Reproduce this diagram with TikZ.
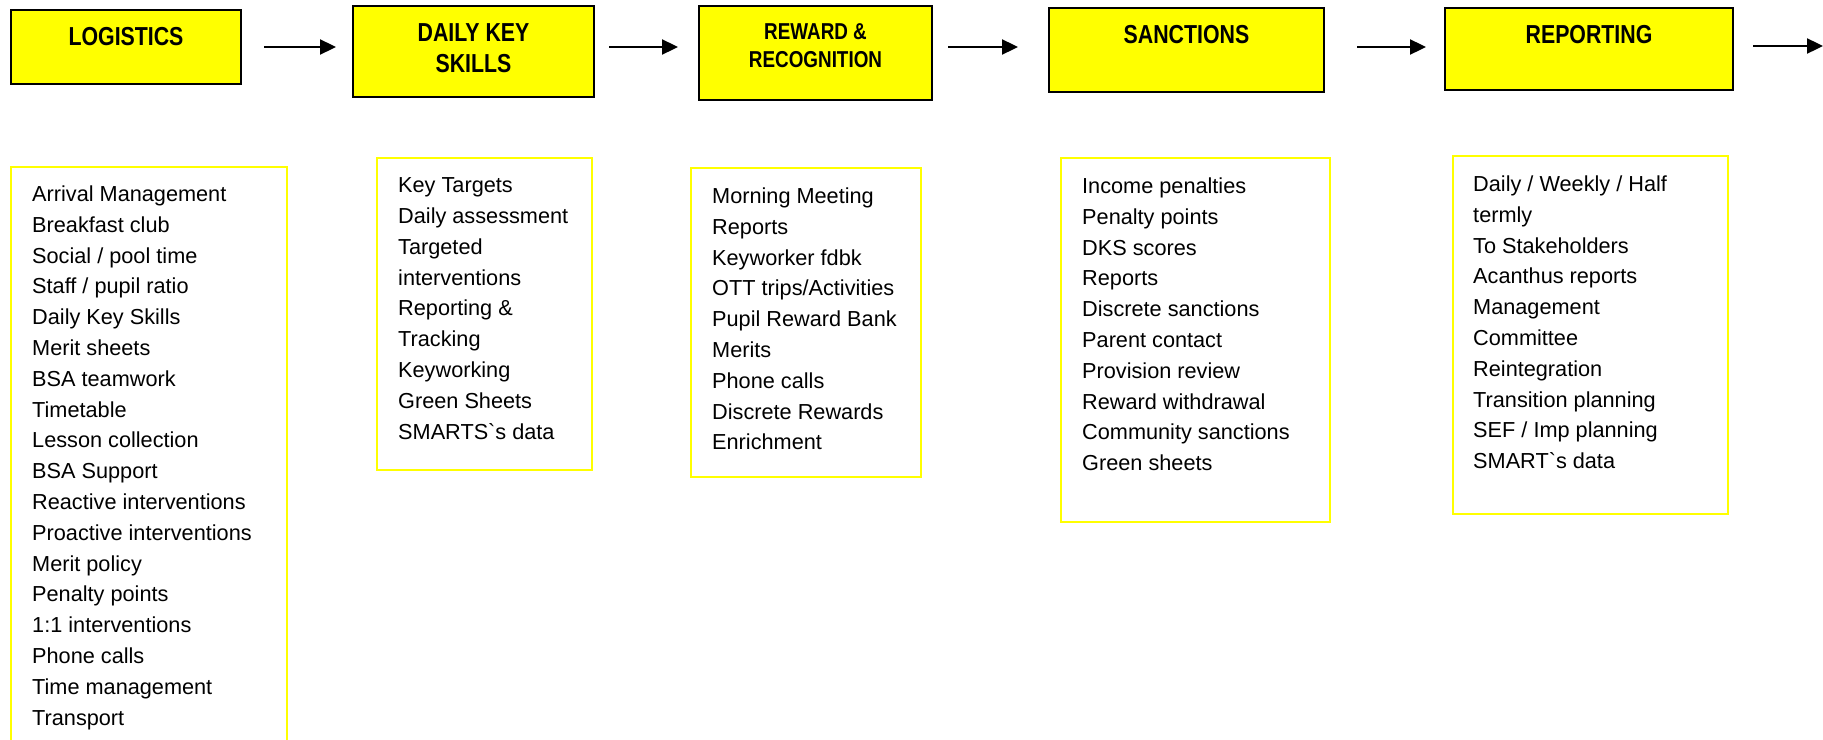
\documentclass[tikz,border=0pt]{standalone}
\usepackage{fontspec}
\setmainfont{Liberation Sans}
\newfontfamily\narrowfont{Liberation Sans}[FakeStretch=0.82]
\usetikzlibrary{arrows.meta}
\definecolor{stageyellow}{HTML}{FFFF00}

\tikzset{
  stage/.style={draw=black, line width=2pt, fill=stageyellow, inner sep=0pt},
  stagetext/.style={anchor=north, inner sep=0pt, yshift=-18.5pt, align=center,
    font=\narrowfont\bfseries\fontsize{26}{31}\selectfont},
  itemlist/.style={draw=stageyellow, line width=1.8pt, inner sep=0pt},
  itemtext/.style={anchor=north west, inner sep=0pt, align=left,
    font=\fontsize{21.7}{30.8}\selectfont},
  flow/.style={-{Triangle[length=16pt,width=15pt]}, line width=2.3pt},
}

\begin{document}
\begin{tikzpicture}[x=1pt, y=-1pt]
                \useasboundingbox (0,0) rectangle (1823,739);
                \clip (0,0) rectangle (1823,739);

                \node[stage, minimum width=230, minimum height=74,
                  label={[stagetext]north:LOGISTICS}] (logistics) at (126,47) {};
                \node[stage, minimum width=241, minimum height=91,
                  label={[stagetext]north:DAILY KEY\\SKILLS}] (dks) at (473.5,51.5) {};
                \node[stage, minimum width=233, minimum height=94,
                  label={[stagetext, yshift=0.5pt, font=\narrowfont\bfseries\fontsize{23}{28}\selectfont]north:REWARD \&\\RECOGNITION}] (reward) at (815.5,53) {};
                \node[stage, minimum width=275, minimum height=84,
                  label={[stagetext]north:SANCTIONS}] (sanctions) at (1186.5,50) {};
                \node[stage, minimum width=288, minimum height=82,
                  label={[stagetext]north:REPORTING}] (reporting) at (1589,49) {};

                \coordinate (flowrow) at (0,47);
                \coordinate (flowend) at (1823,46);

                \draw[flow, shorten <=22pt, shorten >=16pt] (logistics.east |- flowrow) -- (dks.west |- flowrow);
                \draw[flow, shorten <=14pt, shorten >=20pt] (dks.east |- flowrow) -- (reward.west |- flowrow);
                \draw[flow, shorten <=15pt, shorten >=30pt] (reward.east |- flowrow) -- (sanctions.west |- flowrow);
                \draw[flow, shorten <=32pt, shorten >=18pt] (sanctions.east |- flowrow) -- (reporting.west |- flowrow);
                \draw[flow, shorten <=19pt] (reporting.east |- flowend) -- (flowend);

                \node[itemlist, minimum width=276, minimum height=600] (logisticslist) at (149,467) {};
                \node[itemlist, minimum width=215, minimum height=312] (dkslist) at (484.5,314) {};
                \node[itemlist, minimum width=230, minimum height=309] (rewardlist) at (806,322.5) {};
                \node[itemlist, minimum width=269, minimum height=364] (sanctionslist) at (1195.5,340) {};
                \node[itemlist, minimum width=275, minimum height=358] (reportinglist) at (1590.5,335) {};

                \node[itemtext] (logisticsitems) at (32,185.5) {Arrival Management\\Breakfast club\\Social / pool time\\Staff / pupil ratio\\Daily Key Skills\\Merit sheets\\BSA teamwork\\Timetable\\Lesson collection\\BSA Support\\Reactive interventions\\Proactive interventions\\Merit policy\\Penalty points\\1:1 interventions\\Phone calls\\Time management\\Transport};
                \node[itemtext] (dksitems) at (398,177.5) {Key Targets\\Daily assessment\\Targeted\\interventions\\Reporting \&\\Tracking\\Keyworking\\Green Sheets\\SMARTS\textasciigrave s data};
                \node[itemtext] (rewarditems) at (712,187.5) {Morning Meeting\\Reports\\Keyworker fdbk\\OTT trips/Activities\\Pupil Reward Bank\\Merits\\Phone calls\\Discrete Rewards\\Enrichment};
                \node[itemtext] (sanctionsitems) at (1082,177.5) {Income penalties\\Penalty points\\DKS scores\\Reports\\Discrete sanctions\\Parent contact\\Provision review\\Reward withdrawal\\Community sanctions\\Green sheets};
                \node[itemtext] (reportingitems) at (1473,175.5) {Daily / Weekly / Half\\termly\\To Stakeholders\\Acanthus reports\\Management\\Committee\\Reintegration\\Transition planning\\SEF / Imp planning\\SMART\textasciigrave s data};
            \end{tikzpicture}
\end{document}
